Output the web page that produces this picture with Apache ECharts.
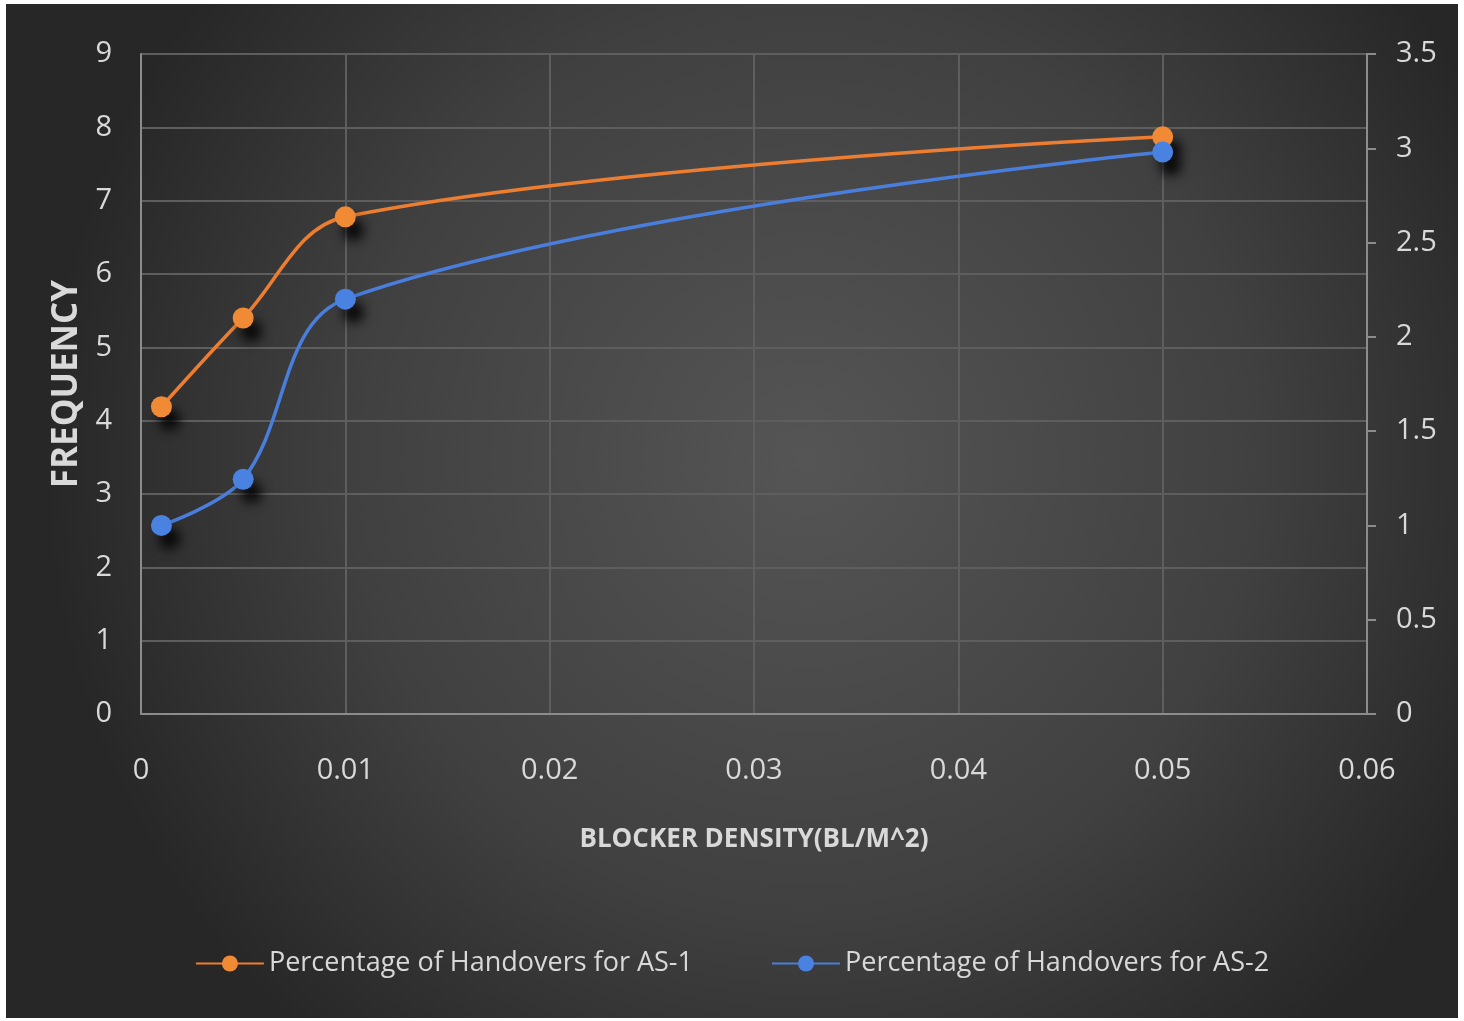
<!DOCTYPE html>
<html>
<head>
<meta charset="utf-8">
<script src="https://cdn.jsdelivr.net/npm/echarts@6/dist/echarts.min.js"></script>
<style>
html,body{margin:0;padding:0;background:#ffffff;}
#c{position:absolute;left:6px;top:4px;width:1452px;height:1014px;}
</style>
</head>
<body>
<div id="c"></div>
<script>
const densities = [0.001, 0.005, 0.01, 0.05];
const as1Values = [4.19, 5.4, 6.78, 7.87];      // left axis (FREQUENCY)
const as2Values = [1.0, 1.245, 2.2, 2.98];      // right axis
const seriesNames = ['Percentage of Handovers for AS-1', 'Percentage of Handovers for AS-2'];
const xAxisName = 'BLOCKER DENSITY(BL/M^2)';
const yAxisName = 'FREQUENCY';

const FONT = "'Open Sans', sans-serif";
const TXT = '#d9d9d9';
const chart = echarts.init(document.getElementById('c'));
const pts = (xs, ys) => xs.map((x, i) => [x, ys[i]]);
const shadow = {shadowColor:'rgba(0,0,0,0.9)', shadowBlur:12, shadowOffsetX:8, shadowOffsetY:13};
chart.setOption({
  backgroundColor: {
    type:'radial', x:0.55, y:0.45, r:0.75,
    colorStops:[{offset:0,color:'#555555'},{offset:0.6,color:'#404040'},{offset:1,color:'#272727'}]
  },
  textStyle:{fontFamily:FONT},
  grid:{left:135, top:50, right:91, bottom:304, containLabel:false},
  legend:{
    bottom:36, left:'center', itemGap:78, itemWidth:68, itemHeight:20,
    textStyle:{color:TXT, fontSize:27, fontFamily:FONT},
    data:seriesNames
  },
  xAxis:{
    type:'value', min:0, max:0.06, interval:0.01,
    name:xAxisName, nameLocation:'middle', nameGap:113,
    nameTextStyle:{color:TXT, fontSize:26, fontWeight:'bold', fontFamily:FONT},
    axisLine:{show:true, lineStyle:{color:'#8c8c8c', width:2}},
    axisTick:{show:false},
    axisLabel:{color:TXT, fontSize:29, margin:42, fontFamily:FONT},
    splitLine:{show:true, lineStyle:{color:'#5e5e5e', width:2}}
  },
  yAxis:[{
    type:'value', min:0, max:9, interval:1, position:'left',
    name:yAxisName, nameLocation:'middle', nameGap:52, nameRotate:90,
    nameTextStyle:{color:TXT, fontSize:35, fontWeight:'bold', fontFamily:FONT},
    axisLine:{show:true, lineStyle:{color:'#8c8c8c', width:2}},
    axisTick:{show:false},
    axisLabel:{color:TXT, fontSize:29, margin:29, fontFamily:FONT},
    splitLine:{show:true, lineStyle:{color:'#5e5e5e', width:2}}
  },{
    type:'value', min:0, max:3.5, interval:0.5, position:'right',
    axisLine:{show:true, lineStyle:{color:'#8c8c8c', width:2}},
    axisTick:{show:true, length:9, lineStyle:{color:'#8c8c8c', width:2}},
    axisLabel:{color:TXT, fontSize:29, margin:29, fontFamily:FONT},
    splitLine:{show:false}
  }],
  series:[{
    name:seriesNames[0], type:'line', yAxisIndex:0, smooth:0.35,
    data:pts(densities, as1Values),
    symbol:'circle', symbolSize:21,
    lineStyle:{color:'#ED7D31', width:3.5},
    itemStyle:Object.assign({color:'#F08A35'}, shadow)
  },{
    name:seriesNames[1], type:'line', yAxisIndex:1, smooth:0.35,
    data:pts(densities, as2Values),
    symbol:'circle', symbolSize:21,
    lineStyle:{color:'#4A7EDC', width:3.5},
    itemStyle:Object.assign({color:'#4A82E2'}, shadow)
  }]
});
</script>
</body>
</html>
